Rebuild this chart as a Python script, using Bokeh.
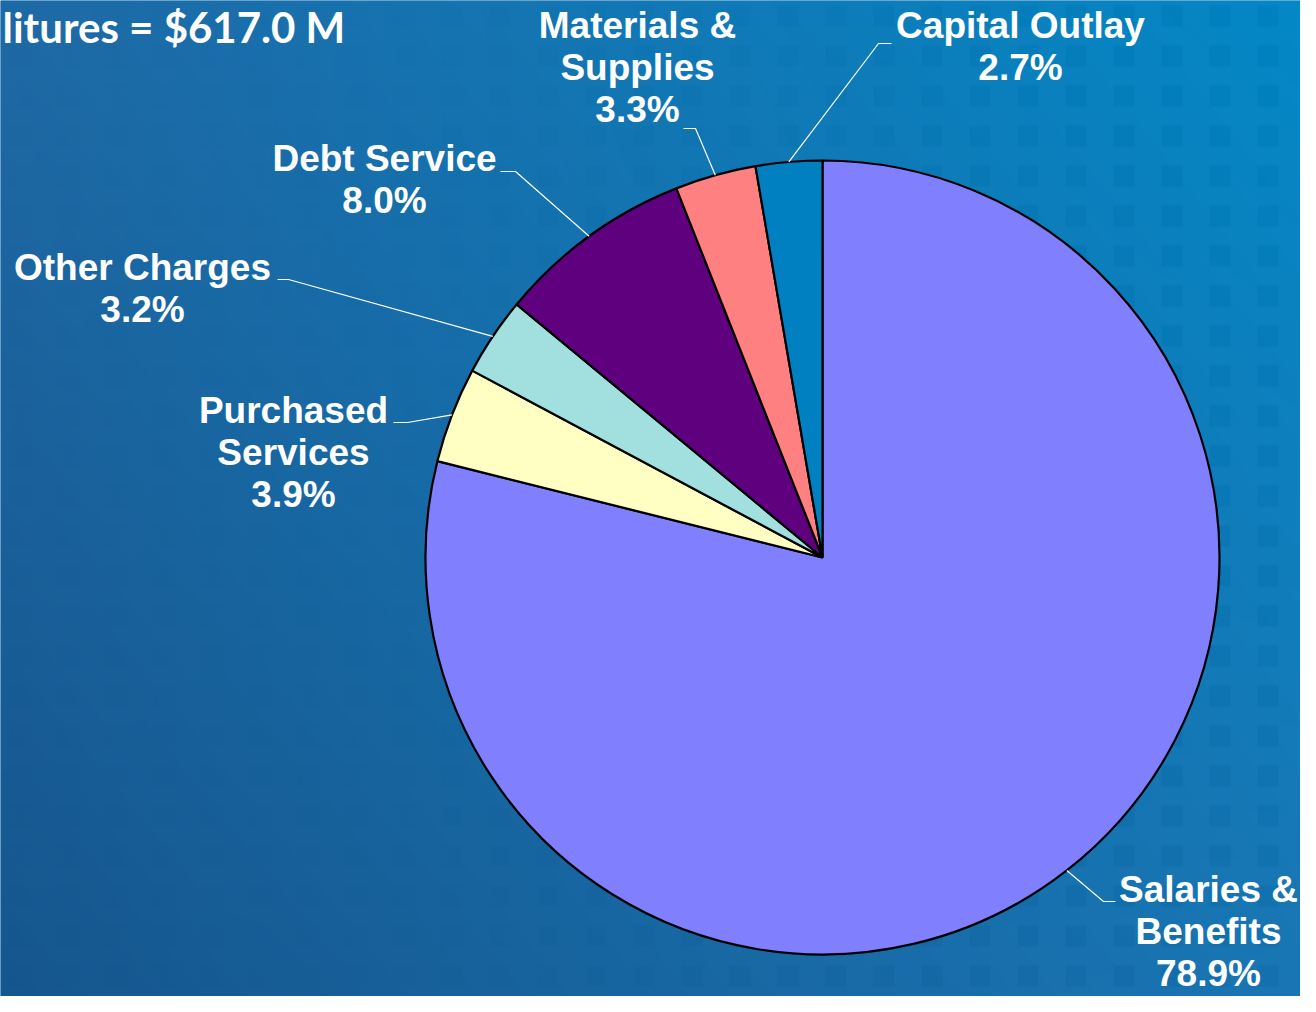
import numpy as np
from bokeh.plotting import figure
from bokeh.models import Range1d
from bokeh.core.properties import value
from bokeh.embed import file_html
from bokeh.resources import INLINE

# ---------------- data ----------------
categories = ["Salaries &\nBenefits", "Purchased\nServices", "Other Charges",
              "Debt Service", "Materials &\nSupplies", "Capital Outlay"]
shares = [78.9, 3.9, 3.2, 8.0, 3.3, 2.7]
title_text = "litures = $617.0 M"   # visible part of the (cut-off) slide title

# ---------------- styles / layout ----------------
colors = ["#8080FF", "#FFFFC4", "#A2E0E0", "#5F007F", "#FF8080", "#0080C0"]
W, H = 1300, 996
REF_H = 1012
cx, cy_ref, R = 822, 557, 397
# label block centres (reference pixel coords) and leader elbow/end points
label_pos = [(1208, 931), (293, 452), (142, 288), (384, 179), (637, 67), (1020, 46)]
leader_elbow = [(1103, 901), (407, 422), (288, 279), (515, 171), (695, 128), (878, 43)]
leader_end = [(1115, 901), (393, 422), (277, 279), (500, 171), (683, 128), (891, 43)]

def fy(Y):
    return REF_H - Y

p = figure(width=W, height=H, output_backend="svg", toolbar_location=None,
           x_range=Range1d(0, W), y_range=Range1d(fy(H), fy(0)),
           min_border=0)
p.axis.visible = False
p.grid.visible = False
p.outline_line_color = None
p.background_fill_color = "#1c6aa6"
p.border_fill_color = "#1c6aa6"

# ---------------- background gradient image (computed top-down, then flipped) ----------------
Xb, Yb = np.meshgrid(np.arange(W) + 0.5, np.arange(H) + 0.5)
u = Xb / W
v = Yb / H
TL = np.array([31, 106, 166]); TR = np.array([4, 136, 198])
BL = np.array([22, 86, 142]); BR = np.array([26, 118, 180])
mask = (((Xb - 9) % 48) < 21) & (((Yb - 5) % 40) < 21)
wgt = np.clip((Xb - 250) / 900.0, 0.15, 1.0)
img = np.zeros((H, W, 4), dtype=np.uint8)
for k in range(3):
    c = (TL[k] * (1 - u) * (1 - v) + TR[k] * u * (1 - v)
         + BL[k] * (1 - u) * v + BR[k] * u * v)
    c = c - mask * wgt * 5
    img[:, :, k] = np.clip(c, 0, 255).astype(np.uint8)
img[:, :, 3] = 255
img = np.ascontiguousarray(img[::-1])
p.image_rgba(image=[img.view(dtype=np.uint32).reshape((H, W))],
             x=0, y=fy(H), dw=W, dh=H)

# ---------------- pie ----------------
fr = np.array(shares) / sum(shares)
cum1 = np.cumsum(fr)
cum0 = cum1 - fr
start = np.pi / 2 - 2 * np.pi * cum0
end = np.pi / 2 - 2 * np.pi * cum1
p.wedge(x=cx, y=fy(cy_ref), radius=R, start_angle=list(start), end_angle=list(end),
        direction="clock", fill_color=colors, line_color="black", line_width=2.2)

# ---------------- leader lines ----------------
mid = np.pi / 2 - 2 * np.pi * (cum0 + cum1) / 2
xs, ys = [], []
for i in range(len(shares)):
    sx = cx + R * np.cos(mid[i])
    sy = fy(cy_ref) + R * np.sin(mid[i])
    xs.append([sx, leader_elbow[i][0], leader_end[i][0]])
    ys.append([sy, fy(leader_elbow[i][1]), fy(leader_end[i][1])])
p.multi_line(xs=xs, ys=ys, line_color="white", line_width=1.2)

# ---------------- labels ----------------
labels = [f"{c}\n{s:.1f}%" for c, s in zip(categories, shares)]
p.text(x=[lp[0] for lp in label_pos], y=[fy(lp[1]) for lp in label_pos], text=labels,
       text_font=value("Liberation Sans"), text_font_style="bold",
       text_font_size="37px", text_color="white", text_align="center",
       text_baseline="middle", text_line_height=1.03)

# ---------------- title ----------------
p.text(x=[2], y=[fy(26)], text=[title_text], text_font=value("Lato"),
       text_font_style="bold", text_font_size="42px", text_color="white",
       text_align="left", text_baseline="middle")

open("out.html", "w").write(file_html(p, INLINE))
